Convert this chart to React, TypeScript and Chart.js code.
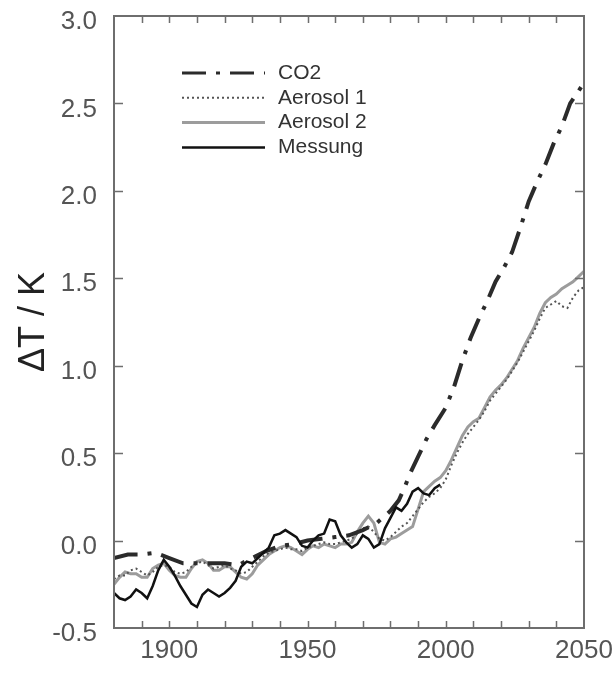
import React, { useEffect, useRef } from "react";
import { Chart, registerables } from "chart.js";

Chart.register(...registerables);

// ---- data ----
const seriesNames = ["CO2", "Aerosol 1", "Aerosol 2", "Messung"];

const co2Years = [1880, 1885, 1890, 1895, 1900, 1905, 1910, 1915, 1920, 1925, 1930, 1935, 1940, 1945, 1950, 1955, 1960, 1965, 1970, 1975, 1980, 1983, 1985, 1987, 1990, 1993, 1996, 2000, 2003, 2006, 2009, 2012, 2015, 2018, 2021, 2024, 2027, 2030, 2033, 2036, 2039, 2042, 2045, 2048, 2050];
const co2Values = [-0.10, -0.08, -0.08, -0.07, -0.10, -0.13, -0.13, -0.13, -0.13, -0.14, -0.10, -0.06, -0.03, -0.02, 0.00, 0.01, 0.02, 0.03, 0.06, 0.10, 0.17, 0.23, 0.30, 0.38, 0.48, 0.58, 0.66, 0.76, 0.88, 1.03, 1.16, 1.27, 1.37, 1.48, 1.56, 1.65, 1.79, 1.94, 2.05, 2.15, 2.27, 2.37, 2.50, 2.57, 2.62];

const aerosolYears = [1880, 1882, 1884, 1886, 1888, 1890, 1892, 1894, 1896, 1898, 1900, 1902, 1904, 1906, 1908, 1910, 1912, 1914, 1916, 1918, 1920, 1922, 1924, 1926, 1928, 1930, 1932, 1934, 1936, 1938, 1940, 1942, 1944, 1946, 1948, 1950, 1952, 1954, 1956, 1958, 1960, 1962, 1964, 1966, 1968, 1970, 1972, 1974, 1976, 1978, 1980, 1982, 1984, 1986, 1988, 1990, 1992, 1994, 1996, 1998, 2000, 2002, 2004, 2006, 2008, 2010, 2012, 2014, 2016, 2018, 2020, 2022, 2024, 2026, 2028, 2030, 2032, 2034, 2036, 2038, 2040, 2042, 2044, 2046, 2048, 2050];
const aerosol1Values = [
  -0.22, -0.20, -0.20, -0.17, -0.16, -0.18, -0.20, -0.18, -0.15, -0.14,
  -0.15, -0.18, -0.19, -0.18, -0.15, -0.13, -0.12, -0.14, -0.16, -0.15,
  -0.14, -0.16, -0.17, -0.19, -0.18, -0.15, -0.12, -0.09, -0.07, -0.06,
  -0.05, -0.04, -0.05, -0.05, -0.06, -0.04, -0.03, -0.02, -0.01, -0.02,
  -0.02, -0.01, 0.00, 0.01, 0.04, 0.07, 0.08, 0.05, 0.01, 0.00,
  0.02, 0.05, 0.08, 0.10, 0.14, 0.18, 0.22, 0.25, 0.27, 0.30,
  0.35, 0.43, 0.50, 0.56, 0.61, 0.65, 0.69, 0.74, 0.80, 0.84,
  0.88, 0.92, 0.97, 1.02, 1.08, 1.14, 1.20, 1.27, 1.33, 1.35,
  1.37, 1.34, 1.33, 1.39, 1.43, 1.45,
];
const aerosol2Values = [
  -0.25, -0.21, -0.18, -0.19, -0.19, -0.21, -0.21, -0.16, -0.14, -0.13,
  -0.17, -0.20, -0.21, -0.21, -0.16, -0.12, -0.11, -0.13, -0.17, -0.17,
  -0.15, -0.15, -0.18, -0.21, -0.22, -0.19, -0.14, -0.11, -0.08, -0.06,
  -0.04, -0.03, -0.04, -0.06, -0.08, -0.05, -0.03, -0.04, -0.02, -0.03,
  -0.04, -0.02, -0.02, -0.01, 0.05, 0.10, 0.14, 0.10, -0.01, -0.02,
  0.01, 0.02, 0.04, 0.06, 0.08, 0.18, 0.28, 0.31, 0.34, 0.36,
  0.40, 0.46, 0.53, 0.60, 0.65, 0.68, 0.70, 0.76, 0.82, 0.86,
  0.89, 0.93, 0.98, 1.03, 1.10, 1.16, 1.22, 1.30, 1.36, 1.39,
  1.41, 1.44, 1.46, 1.48, 1.51, 1.54,
];

const messungYears = [1880, 1882, 1884, 1886, 1888, 1890, 1892, 1894, 1896, 1898, 1900, 1902, 1904, 1906, 1908, 1910, 1912, 1914, 1916, 1918, 1920, 1922, 1924, 1926, 1928, 1930, 1932, 1934, 1936, 1938, 1940, 1942, 1944, 1946, 1948, 1950, 1952, 1954, 1956, 1958, 1960, 1962, 1964, 1966, 1968, 1970, 1972, 1974, 1976, 1978, 1980, 1982, 1984, 1986, 1988, 1990, 1992, 1994, 1996, 1998];
const messungValues = [
  -0.30, -0.33, -0.34, -0.32, -0.28, -0.30, -0.33, -0.26, -0.17, -0.11,
  -0.15, -0.20, -0.26, -0.31, -0.36, -0.38, -0.31, -0.28, -0.30, -0.32,
  -0.30, -0.27, -0.23, -0.15, -0.12, -0.13, -0.10, -0.07, -0.04, 0.03,
  0.04, 0.06, 0.04, 0.02, -0.03, -0.04, 0.00, 0.03, 0.04, 0.12,
  0.11, 0.03, -0.01, -0.04, -0.02, 0.03, 0.01, -0.04, -0.02, 0.07,
  0.13, 0.19, 0.17, 0.21, 0.28, 0.30, 0.27, 0.26, 0.30, 0.32,
];

const xLabelTicks = [1900, 1950, 2000, 2050];
const xMinorTicks = [1890, 1900, 1910, 1920, 1930, 1940, 1950, 1960, 1970, 1980, 1990, 2000, 2010, 2020, 2030, 2040];
const yMinorTicks = [0, 0.5, 1.0, 1.5, 2.0, 2.5];

const zip = (xs: number[], ys: number[]) => xs.map((x, i) => ({ x, y: ys[i] }));

const frameTicksPlugin = {
  id: "frameTicks",
  afterDatasetsDraw(chart: any) {
    const { ctx, chartArea, scales } = chart;
    const { left, right, top, bottom } = chartArea;
    ctx.save();
    ctx.strokeStyle = "#6e6e6e";
    ctx.lineWidth = 2;
    ctx.strokeRect(left, top, right - left, bottom - top);
    ctx.lineWidth = 1.5;
    ctx.beginPath();
    xMinorTicks.forEach((v) => {
      const px = Math.round(scales.x.getPixelForValue(v)) + 0.5;
      ctx.moveTo(px, bottom);
      ctx.lineTo(px, bottom - 7);
      ctx.moveTo(px, top);
      ctx.lineTo(px, top + 7);
    });
    yMinorTicks.forEach((v) => {
      const py = Math.round(scales.y.getPixelForValue(v)) + 0.5;
      ctx.moveTo(left, py);
      ctx.lineTo(left + 9, py);
      ctx.moveTo(right, py);
      ctx.lineTo(right - 9, py);
    });
    ctx.stroke();
    ctx.restore();
  },
};

const legendPlugin = {
  id: "insideLegend",
  afterDraw(chart: any) {
    const { ctx } = chart;
    ctx.save();
    chart.data.datasets.forEach((ds: any, i: number) => {
      const y = 73 + i * 24.8;
      ctx.beginPath();
      ctx.strokeStyle = ds.borderColor;
      ctx.lineWidth = Math.min(ds.borderWidth, 3);
      ctx.setLineDash(ds.borderDash || []);
      ctx.moveTo(182, y);
      ctx.lineTo(265, y);
      ctx.stroke();
      ctx.setLineDash([]);
      ctx.fillStyle = "#333";
      ctx.font = "21px 'Liberation Sans', Arial, sans-serif";
      ctx.textBaseline = "middle";
      ctx.textAlign = "left";
      ctx.fillText(ds.label, 278, y);
    });
    ctx.restore();
  },
};

export default function App() {
  const canvasRef = useRef<HTMLCanvasElement | null>(null);

  useEffect(() => {
    const canvas = canvasRef.current;
    if (!canvas) return;
    const chart = new Chart(canvas, {
      type: "line",
      data: {
        datasets: [
          {
            label: seriesNames[0],
            data: zip(co2Years, co2Values),
            borderColor: "#2b2b2b",
            borderWidth: 4,
            borderDash: [24, 10, 4, 10],
            pointRadius: 0,
            tension: 0,
            order: 1,
          },
          {
            label: seriesNames[1],
            data: zip(aerosolYears, aerosol1Values),
            borderColor: "#555555",
            borderWidth: 2,
            borderDash: [2, 3],
            pointRadius: 0,
            tension: 0,
            order: 2,
          },
          {
            label: seriesNames[2],
            data: zip(aerosolYears, aerosol2Values),
            borderColor: "#9c9c9c",
            borderWidth: 3,
            pointRadius: 0,
            tension: 0,
            order: 3,
          },
          {
            label: seriesNames[3],
            data: zip(messungYears, messungValues),
            borderColor: "#111111",
            borderWidth: 2.5,
            pointRadius: 0,
            tension: 0,
            order: 0,
          },
        ],
      } as any,
      options: {
        responsive: false,
        animation: false,
        parsing: false as any,
        layout: { padding: { left: 0, top: 16, right: 32, bottom: 0 } },
        plugins: {
          legend: { display: false },
          tooltip: { enabled: false },
        },
        scales: {
          x: {
            type: "linear",
            min: 1880,
            max: 2050,
            grid: { display: false, drawTicks: false },
            border: { display: false },
            afterBuildTicks: (scale: any) => {
              scale.ticks = xLabelTicks.map((v) => ({ value: v }));
            },
            afterFit: (scale: any) => {
              scale.height = 45;
              scale.paddingLeft = 0;
              scale.paddingRight = 0;
            },
            ticks: {
              padding: 7,
              color: "#555",
              font: { size: 26, family: "'Liberation Sans', Arial, sans-serif" },
              maxRotation: 0,
              autoSkip: false,
              callback: (v: any) => String(v),
            },
          },
          y: {
            type: "linear",
            min: -0.5,
            max: 3.0,
            grid: { display: false, drawTicks: false },
            border: { display: false },
            afterFit: (scale: any) => {
              scale.width = 114;
              scale.paddingTop = 0;
              scale.paddingBottom = 0;
            },
            ticks: {
              stepSize: 0.5,
              padding: 17,
              labelOffset: 6,
              color: "#555",
              font: { size: 26, family: "'Liberation Sans', Arial, sans-serif" },
              callback: (v: any) => Number(v).toFixed(1),
            },
            title: {
              display: true,
              text: "ΔT / K",
              color: "#222",
              padding: { top: 12, bottom: 0 },
              font: { size: 36, family: "'Liberation Sans', Arial, sans-serif" },
            },
          },
        },
      } as any,
      plugins: [frameTicksPlugin, legendPlugin],
    });
    return () => chart.destroy();
  }, []);

  return (
    <div style={{ position: "fixed", left: 0, top: 0, width: 616, height: 673, background: "#fff" }}>
      <canvas ref={canvasRef} width={616} height={673} style={{ display: "block" }} />
    </div>
  );
}
